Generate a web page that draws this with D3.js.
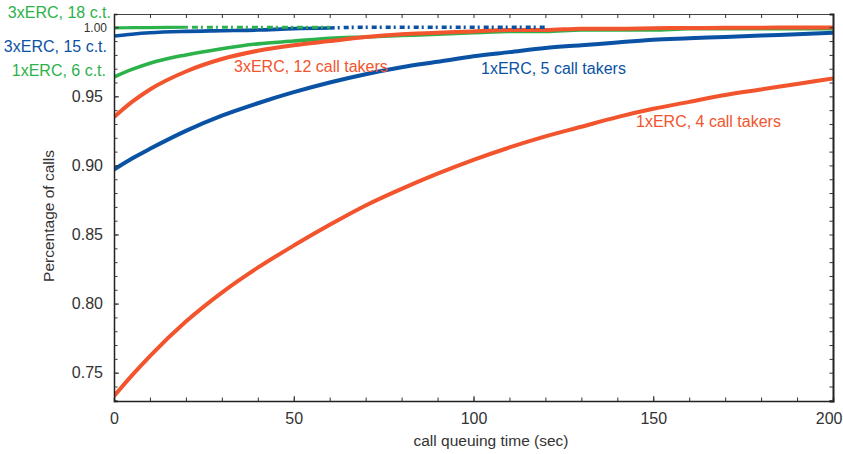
<!DOCTYPE html>
<html>
<head>
<meta charset="utf-8">
<script src="https://cdn.jsdelivr.net/npm/d3@7"></script>
<style>
  body { margin: 0; background: #fff; }
  text { font-family: "Liberation Sans", Arial, Helvetica, sans-serif; }
</style>
</head>
<body>
<div id="place"></div>
<script>
const times = [0, 5, 10, 20, 30, 40, 50, 60, 70, 80, 90, 100, 110, 120, 130, 140, 150, 160, 170, 180, 190, 200];

// share of calls answered within that time
const erc1x4 = [0.733, 0.748, 0.762, 0.787, 0.808, 0.826, 0.842, 0.857, 0.871, 0.883, 0.894, 0.904, 0.913, 0.921, 0.928, 0.935, 0.941, 0.946, 0.951, 0.955, 0.959, 0.963];
const erc1x5 = [0.897, 0.905, 0.912, 0.925, 0.936, 0.945, 0.953, 0.960, 0.966, 0.971, 0.975, 0.979, 0.982, 0.985, 0.987, 0.989, 0.991, 0.992, 0.993, 0.994, 0.995, 0.996];
const erc1x6 = [0.964, 0.9695, 0.974, 0.980, 0.9845, 0.988, 0.990, 0.992, 0.993, 0.994, 0.995, 0.996, 0.997, 0.997, 0.998, 0.998, 0.998, 0.999, 0.999, 0.999, 0.999, 0.999];
const erc3x12 = [0.935, 0.946, 0.955, 0.968, 0.977, 0.983, 0.987, 0.990, 0.993, 0.995, 0.996, 0.997, 0.998, 0.998, 0.999, 0.999, 0.9993, 0.9995, 0.9996, 0.9997, 0.9998, 0.9998];
const erc3x15 = [0.9937, 0.995, 0.996, 0.997, 0.9975, 0.998, 0.999, 0.9995, 1.0, 1.0, 1.0, 1.0, 1.0, 1.0];
const erc3x18 = [0.9995, 0.9997, 0.9998, 1.0, 1.0, 1.0, 1.0, 1.0];

const yTicks = [0.75, 0.80, 0.85, 0.90, 0.95, 1.00];
const xTicks = [0, 50, 100, 150, 200];

const red = "#f2542d", blue = "#0a52a3", green = "#2cb24a";

const W = 843, H = 454;
const svg = d3.select("#place").append("svg").attr("width", W).attr("height", H);

const x = d3.scaleLinear().domain([0, 200]).range([114, 833]);
const y = d3.scaleLinear().domain([0.7295, 1.0096]).range([401, 14]);

svg.append("clipPath").attr("id", "plot")
  .append("rect").attr("x", 114).attr("y", 14).attr("width", 719).attr("height", 387);

// séries : trait plein jusqu'à "solid", pointillé ensuite
const series = [
  { v: erc1x4, c: red, w: 4 },
  { v: erc1x5, c: blue, w: 4 },
  { v: erc1x6, c: green, w: 3.6 },
  { v: erc3x12, c: red, w: 4 },
  { v: erc3x15, c: blue, w: 3.6, solid: 60, dash: "5,3,2,4" },
  { v: erc3x18, c: green, w: 3.2, solid: 20, dash: "2,4,6,3" }
];

const line = d3.line()
  .x(d => x(d[0]))
  .y(d => y(d[1]))
  .curve(d3.curveMonotoneX);

const g = svg.append("g").attr("clip-path", "url(#plot)");

series.forEach(s => {
  const pts = s.v.map((v, i) => [times[i], v]);
  if (s.solid === undefined) {
    g.append("path").datum(pts).attr("d", line)
      .attr("fill", "none").attr("stroke", s.c).attr("stroke-width", s.w);
  } else {
    g.append("path").datum(pts.filter(p => p[0] <= s.solid)).attr("d", line)
      .attr("fill", "none").attr("stroke", s.c).attr("stroke-width", s.w);
    g.append("path").datum(pts.filter(p => p[0] >= s.solid)).attr("d", line)
      .attr("fill", "none").attr("stroke", s.c).attr("stroke-width", s.w)
      .attr("stroke-dasharray", s.dash);
  }
});

// axes
const minorX = d3.range(0, 201, 10);
const minorY = d3.range(0.73, 1.0096, 0.01);

function styleAxis(sel) {
  sel.select(".domain").attr("stroke", "#222").attr("stroke-width", 1.5);
  sel.selectAll(".tick line").attr("stroke", "#333");
  sel.selectAll("text").attr("fill", "#333").style("font-size", "16px")
    .style("font-family", "'Liberation Sans', Arial, sans-serif");
}

svg.append("g").attr("transform", "translate(0,401)")
  .call(d3.axisBottom(x).tickValues(minorX).tickSize(-3.5).tickFormat(""))
  .call(styleAxis);
svg.append("g").attr("transform", "translate(0,401)")
  .call(d3.axisBottom(x).tickValues(xTicks).tickSize(-5).tickPadding(12).tickFormat(d3.format("d")))
  .call(styleAxis)
  .call(a => a.select(".domain").remove())
  .call(a => a.selectAll(".tick").filter(d => d === 200).select("text")
    .attr("text-anchor", "end").attr("x", 9));

svg.append("g").attr("transform", "translate(0,14)")
  .call(d3.axisTop(x).tickValues(minorX).tickSize(-4).tickFormat(""))
  .call(styleAxis)
  .call(a => a.select(".domain").attr("stroke-width", 1).attr("stroke", "#444"));

svg.append("g").attr("transform", "translate(114,0)")
  .call(d3.axisLeft(y).tickValues(minorY).tickSize(-3.5).tickFormat(""))
  .call(styleAxis);
svg.append("g").attr("transform", "translate(114,0)")
  .call(d3.axisLeft(y).tickValues(yTicks).tickSize(-5).tickPadding(11).tickFormat(d3.format(".2f")))
  .call(styleAxis)
  .call(a => a.select(".domain").remove())
  .call(a => a.selectAll(".tick").filter(d => d === 1.00).select("text")
    .style("font-size", "12px").attr("x", -7));

svg.append("g").attr("transform", "translate(833,0)")
  .call(d3.axisRight(y).tickValues(minorY).tickSize(-3.5).tickFormat(""))
  .call(styleAxis)
  .call(a => a.select(".domain").attr("stroke-width", 2));

// axis titles
svg.append("text").attr("x", 491).attr("y", 446).attr("text-anchor", "middle")
  .attr("fill", "#333").style("font-size", "15.5px").text("call queuing time (sec)");
svg.append("text").attr("transform", "translate(54,216) rotate(-90)").attr("text-anchor", "middle")
  .attr("fill", "#333").style("font-size", "15.5px").text("Percentage of calls");

// series labels
const labels = [
  { t: "3xERC, 18 c.t.", c: green, x: 111, y: 18, a: "end" },
  { t: "3xERC, 15 c.t.", c: blue, x: 107, y: 52, a: "end" },
  { t: "1xERC, 6 c.t.", c: green, x: 106, y: 76, a: "end" },
  { t: "3xERC, 12 call takers", c: red, x: 234, y: 72, a: "start" },
  { t: "1xERC, 5 call takers", c: blue, x: 481, y: 74, a: "start" },
  { t: "1xERC, 4 call takers", c: red, x: 636, y: 127, a: "start" }
];
svg.selectAll(".lab").data(labels).enter().append("text")
  .attr("class", "lab")
  .attr("x", d => d.x).attr("y", d => d.y)
  .attr("text-anchor", d => d.a)
  .attr("fill", d => d.c)
  .style("font-size", "16px")
  .text(d => d.t);
</script>
</body>
</html>
